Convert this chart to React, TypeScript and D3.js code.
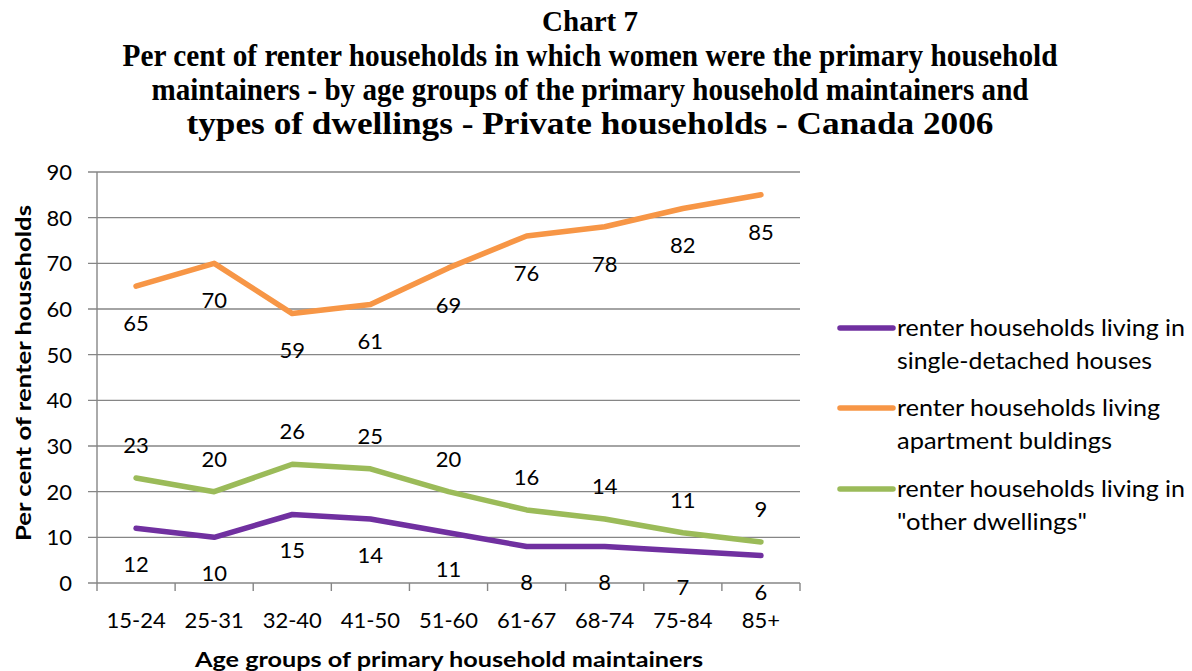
import React from "react";
import * as d3 from "d3";

const titleLines = [
  "Chart 7",
  "Per cent of renter households in which women were the primary household",
  "maintainers - by age groups of the primary household maintainers and",
  "types of dwellings - Private households - Canada 2006",
];
const categories = ["15-24", "25-31", "32-40", "41-50", "51-60", "61-67", "68-74", "75-84", "85+"];
const singleDetached = [12, 10, 15, 14, 11, 8, 8, 7, 6];
const apartments = [65, 70, 59, 61, 69, 76, 78, 82, 85];
const otherDwellings = [23, 20, 26, 25, 20, 16, 14, 11, 9];
const yTicks = [0, 10, 20, 30, 40, 50, 60, 70, 80, 90];

const series = [
  { name: ["renter households living in", "single-detached houses"], values: singleDetached, color: "#7030A0", labelDy: 36 },
  { name: ["renter households living", "apartment buldings"], values: apartments, color: "#F79646", labelDy: 37 },
  { name: ["renter households living in", "\"other dwellings\""], values: otherDwellings, color: "#9BBB59", labelDy: -33 },
];

const W = 1192, H = 671;
const left = 97, right = 800, top = 172, bottom = 583;
const FONT = "Lato, 'Open Sans', sans-serif";

export default function App() {
  const x = d3.scaleBand<string>().domain(categories).range([left, right]).paddingInner(0).paddingOuter(0);
  const y = d3.scaleLinear().domain([0, 90]).range([bottom, top]);
  const cx = (c: string) => (x(c) as number) + x.bandwidth() / 2;
  const line = d3.line<number>().x((_, i) => cx(categories[i])).y((v) => y(v)).curve(d3.curveLinear);
  const grid = "#868686";
  const titleWidths = [96, 935, 877, 807];
  const titleBase = [31, 66, 100, 134];
  const titleSizes = [29, 32, 32, 32];
  const legendWidths = [[288, 255], [263, 215], [288, 190]];

  const boundaries = categories.map((c) => x(c) as number).concat([right]);

  return (
    <svg width={W} height={H} style={{ position: "absolute", left: 0, top: 0, background: "#fff" }}>
      {titleLines.map((t, i) => (
        <text key={i} x={590} y={titleBase[i]} textAnchor="middle" fontFamily="'Liberation Serif', 'Times New Roman', serif" fontWeight="bold" fontSize={titleSizes[i]} textLength={titleWidths[i]} lengthAdjust="spacingAndGlyphs">{t}</text>
      ))}

      {yTicks.map((t) => (
        <g key={t}>
          <line x1={88} x2={right} y1={y(t)} y2={y(t)} stroke={grid} strokeWidth={1.4} />
          <text x={72} y={y(t)} dy="0.36em" textAnchor="end" fontFamily={FONT} fontSize={22} fill="#000">{t}</text>
        </g>
      ))}
      <line x1={left} x2={left} y1={top} y2={bottom} stroke={grid} strokeWidth={1.4} />
      {boundaries.map((b, i) => (
        <line key={i} x1={b} x2={b} y1={bottom} y2={bottom + 8} stroke={grid} strokeWidth={1.4} />
      ))}
      {categories.map((c) => (
        <text key={c} x={cx(c)} y={620} dy="0.36em" textAnchor="middle" fontFamily={FONT} fontSize={22}>{c}</text>
      ))}

      <text x={449} y={659} dy="0.36em" textAnchor="middle" fontFamily={FONT} fontWeight="bold" fontSize={21} textLength={508} lengthAdjust="spacingAndGlyphs">Age groups of primary household maintainers</text>
      <text transform={`translate(23,373) rotate(-90)`} dy="0.36em" textAnchor="middle" fontFamily={FONT} fontWeight="bold" fontSize={21} textLength={336} lengthAdjust="spacingAndGlyphs">Per cent of renter households</text>

      {series.map((s, si) => (
        <path key={si} d={line(s.values) as string} fill="none" stroke={s.color} strokeWidth={5.5} strokeLinecap="round" strokeLinejoin="round" />
      ))}
      {series.map((s, si) =>
        s.values.map((v, i) => (
          <text key={`${si}-${i}`} x={cx(categories[i])} y={y(v) + s.labelDy} dy="0.36em" textAnchor="middle" fontFamily={FONT} fontSize={22}>{v}</text>
        ))
      )}

      {series.map((s, si) => {
        const ly = [328, 408, 489][si];
        return (
          <g key={si}>
            <line x1={840} x2={893} y1={ly} y2={ly} stroke={s.color} strokeWidth={5.5} strokeLinecap="round" />
            {s.name.map((n, k) => (
              <text key={k} x={897} y={ly + k * 33} dy="0.36em" fontFamily={FONT} fontSize={23} textLength={legendWidths[si][k]} lengthAdjust="spacingAndGlyphs">{n}</text>
            ))}
          </g>
        );
      })}
    </svg>
  );
}
